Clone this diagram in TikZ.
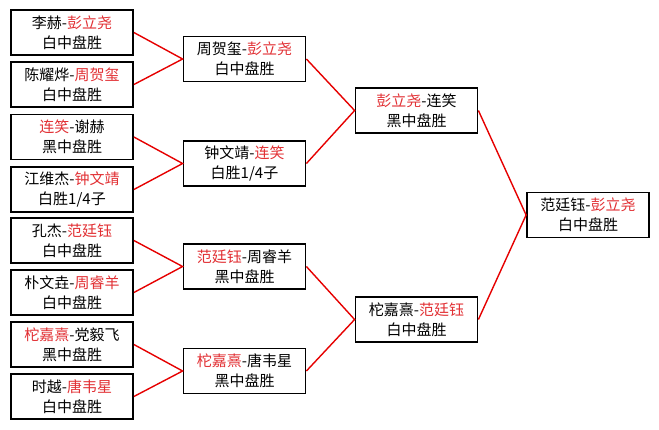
\documentclass[tikz,border=0pt]{standalone}
\usepackage{fontspec}
\newfontfamily\cjk{Noto Sans CJK SC}
\definecolor{wred}{RGB}{226,48,52}
\definecolor{lred}{RGB}{230,0,0}
\newcommand{\rd}[1]{\textcolor{wred}{#1}}
\begin{document}
\begin{tikzpicture}[x=1pt,y=-1pt,
  game/.style={draw=black,line width=1.8pt,fill=white,minimum width=122pt,minimum height=45pt,
    inner sep=0pt,align=center,font=\cjk\fontsize{15}{20}\selectfont},
  link/.style={draw=lred,line width=1.4pt}]
\useasboundingbox[fill=white] (0,0) rectangle (659,429);
% round 1
\node[game] (a1) at (72,32.5) {李赫-\rd{彭立尧}\\白中盘胜};
\node[game] (a2) at (72,84.5) {陈耀烨-\rd{周贺玺}\\白中盘胜};
\node[game] (a3) at (72,137) {\rd{连笑}-谢赫\\黑中盘胜};
\node[game] (a4) at (72,189.5) {江维杰-\rd{钟文靖}\\白胜1/4子};
\node[game] (a5) at (72,240.5) {孔杰-\rd{范廷钰}\\白中盘胜};
\node[game] (a6) at (72,292.5) {朴文垚-\rd{周睿羊}\\白中盘胜};
\node[game] (a7) at (72,344.5) {\rd{柁嘉熹}-党毅飞\\黑中盘胜};
\node[game] (a8) at (72,396.5) {时越-\rd{唐韦星}\\白中盘胜};
% round 2
\node[game] (b1) at (244.5,59) {周贺玺-\rd{彭立尧}\\白中盘胜};
\node[game] (b2) at (244.5,163.5) {钟文靖-\rd{连笑}\\白胜1/4子};
\node[game] (b3) at (244.5,266.5) {\rd{范廷钰}-周睿羊\\黑中盘胜};
\node[game] (b4) at (244.5,371) {\rd{柁嘉熹}-唐韦星\\黑中盘胜};
% round 3
\node[game] (c1) at (416.5,110.5) {\rd{彭立尧}-连笑\\黑中盘胜};
\node[game] (c2) at (416.5,319.5) {柁嘉熹-\rd{范廷钰}\\白中盘胜};
% final
\node[game] (d1) at (588,215) {范廷钰-\rd{彭立尧}\\白中盘胜};
% connectors
\draw[link] (a1.east) -- (b1.west) -- (a2.east);
\draw[link] (a3.east) -- (b2.west) -- (a4.east);
\draw[link] (a5.east) -- (b3.west) -- (a6.east);
\draw[link] (a7.east) -- (b4.west) -- (a8.east);
\draw[link] (b1.east) -- (c1.west) -- (b2.east);
\draw[link] (b3.east) -- (c2.west) -- (b4.east);
\draw[link] (c1.east) -- (d1.west) -- (c2.east);
\end{tikzpicture}
\end{document}
